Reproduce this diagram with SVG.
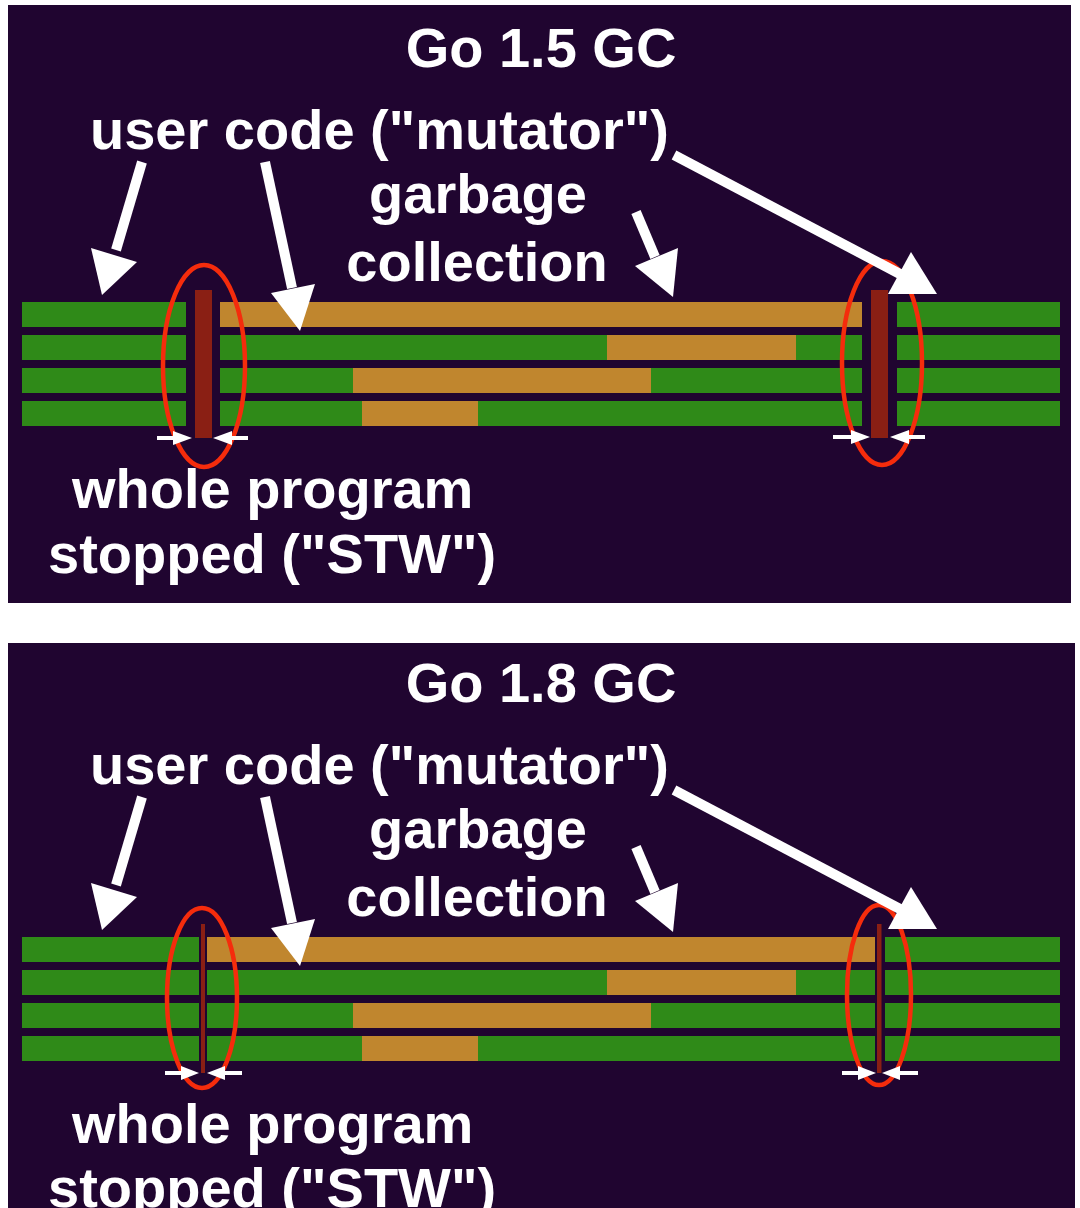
<svg xmlns="http://www.w3.org/2000/svg" width="1080" height="1208" viewBox="0 0 1080 1208">
<defs>
<style>
.bg{fill:#200530}
.g{fill:#2f8a18}
.o{fill:#c0862e}
.stw{fill:#8a1f14}
.ring{fill:none;stroke:#f52c0c;stroke-width:4.5}
.t{font-family:"Liberation Sans",Arial,sans-serif;font-weight:bold;font-size:56px;fill:#ffffff}
.shaft{stroke:#ffffff;stroke-width:10;fill:none}
.head{fill:#ffffff}
.sm{stroke:#ffffff;stroke-width:4;fill:none}
</style>
</defs>
<rect x="0" y="0" width="1080" height="1208" fill="#ffffff"/>

<!-- Top panel: Go 1.5 -->
<g id="panel-go15">
<rect class="bg" x="8" y="5" width="1063" height="598"/>
<text class="t" x="541" y="67" text-anchor="middle">Go 1.5 GC</text>
<text class="t" x="90" y="149">user code ("mutator")</text>
<text class="t" x="478" y="213" text-anchor="middle">garbage</text>
<text class="t" x="477" y="281" text-anchor="middle">collection</text>
<text class="t" x="72" y="508">whole program</text>
<text class="t" x="48" y="573">stopped ("STW")</text>
<g id="bars15">
<rect class="g" x="22" y="302" width="164" height="25"/>
<rect class="g" x="22" y="335" width="164" height="25"/>
<rect class="g" x="22" y="368" width="164" height="25"/>
<rect class="g" x="22" y="401" width="164" height="25"/>
<rect class="o" x="220" y="302" width="642" height="25"/>
<rect class="g" x="220" y="335" width="387" height="25"/>
<rect class="o" x="607" y="335" width="189" height="25"/>
<rect class="g" x="796" y="335" width="66" height="25"/>
<rect class="g" x="220" y="368" width="133" height="25"/>
<rect class="o" x="353" y="368" width="298" height="25"/>
<rect class="g" x="651" y="368" width="211" height="25"/>
<rect class="g" x="220" y="401" width="142" height="25"/>
<rect class="o" x="362" y="401" width="116" height="25"/>
<rect class="g" x="478" y="401" width="384" height="25"/>
<rect class="g" x="897" y="302" width="163" height="25"/>
<rect class="g" x="897" y="335" width="163" height="25"/>
<rect class="g" x="897" y="368" width="163" height="25"/>
<rect class="g" x="897" y="401" width="163" height="25"/>
</g>
<g id="stw15-left">
<rect class="stw" x="195" y="290" width="17" height="148"/>
<ellipse class="ring" cx="204" cy="366" rx="41" ry="101"/>
</g>
<g id="stw15-right">
<rect class="stw" x="871" y="290" width="17" height="148"/>
<ellipse class="ring" cx="882" cy="363" rx="40" ry="102"/>
</g>
</g>

<!-- Bottom panel: Go 1.8 -->
<g id="panel-go18">
<rect class="bg" x="8" y="643" width="1067" height="565"/>
<text class="t" x="541" y="702" text-anchor="middle">Go 1.8 GC</text>
<text class="t" x="90" y="784">user code ("mutator")</text>
<text class="t" x="478" y="848" text-anchor="middle">garbage</text>
<text class="t" x="477" y="916" text-anchor="middle">collection</text>
<text class="t" x="72" y="1143">whole program</text>
<text class="t" x="48" y="1207">stopped ("STW")</text>
<g id="bars18">
<rect class="g" x="22" y="937" width="177" height="25"/>
<rect class="g" x="22" y="970" width="177" height="25"/>
<rect class="g" x="22" y="1003" width="177" height="25"/>
<rect class="g" x="22" y="1036" width="177" height="25"/>
<rect class="o" x="207" y="937" width="668" height="25"/>
<rect class="g" x="207" y="970" width="400" height="25"/>
<rect class="o" x="607" y="970" width="189" height="25"/>
<rect class="g" x="796" y="970" width="79" height="25"/>
<rect class="g" x="207" y="1003" width="146" height="25"/>
<rect class="o" x="353" y="1003" width="298" height="25"/>
<rect class="g" x="651" y="1003" width="224" height="25"/>
<rect class="g" x="207" y="1036" width="155" height="25"/>
<rect class="o" x="362" y="1036" width="116" height="25"/>
<rect class="g" x="478" y="1036" width="397" height="25"/>
<rect class="g" x="885" y="937" width="175" height="25"/>
<rect class="g" x="885" y="970" width="175" height="25"/>
<rect class="g" x="885" y="1003" width="175" height="25"/>
<rect class="g" x="885" y="1036" width="175" height="25"/>
</g>
<g id="stw18-left">
<rect class="stw" x="201" y="924" width="4" height="149"/>
<ellipse class="ring" cx="202" cy="998" rx="35" ry="90"/>
</g>
<g id="stw18-right">
<rect class="stw" x="877" y="924" width="4.5" height="149"/>
<ellipse class="ring" cx="879" cy="995" rx="32" ry="90"/>
</g>
</g>

<!-- Connectors -->
<g id="connectors">
<line class="shaft" x1="142" y1="162" x2="116" y2="250"/>
<polygon class="head" points="102,295 91,248 137,262"/>
<line class="shaft" x1="265" y1="162" x2="292" y2="288"/>
<polygon class="head" points="300,331 271,293 315,284"/>
<line class="shaft" x1="636" y1="212" x2="655" y2="257"/>
<polygon class="head" points="673,297 635,266 678,248"/>
<line class="shaft" x1="674" y1="155" x2="900" y2="274"/>
<polygon class="head" points="937,294 888,294 911,252"/>
<line class="sm" x1="157" y1="438" x2="177" y2="438"/>
<polygon class="head" points="192,438 173,431 173,445"/>
<line class="sm" x1="248" y1="438" x2="228" y2="438"/>
<polygon class="head" points="213,438 232,431 232,445"/>
<line class="sm" x1="833" y1="437" x2="855" y2="437"/>
<polygon class="head" points="870,437 851,430 851,444"/>
<line class="sm" x1="925" y1="437" x2="905" y2="437"/>
<polygon class="head" points="890,437 909,430 909,444"/>

<line class="shaft" x1="142" y1="797" x2="116" y2="885"/>
<polygon class="head" points="102,930 91,883 137,897"/>
<line class="shaft" x1="265" y1="797" x2="292" y2="923"/>
<polygon class="head" points="300,966 271,928 315,919"/>
<line class="shaft" x1="636" y1="847" x2="655" y2="892"/>
<polygon class="head" points="673,932 635,901 678,883"/>
<line class="shaft" x1="674" y1="790" x2="900" y2="909"/>
<polygon class="head" points="937,929 888,929 911,887"/>
<line class="sm" x1="165" y1="1073" x2="185" y2="1073"/>
<polygon class="head" points="199,1073 181,1066 181,1080"/>
<line class="sm" x1="242" y1="1073" x2="222" y2="1073"/>
<polygon class="head" points="207,1073 225,1066 225,1080"/>
<line class="sm" x1="842" y1="1073" x2="862" y2="1073"/>
<polygon class="head" points="876,1073 858,1066 858,1080"/>
<line class="sm" x1="918" y1="1073" x2="898" y2="1073"/>
<polygon class="head" points="882,1073 900,1066 900,1080"/>
</g>
</svg>
